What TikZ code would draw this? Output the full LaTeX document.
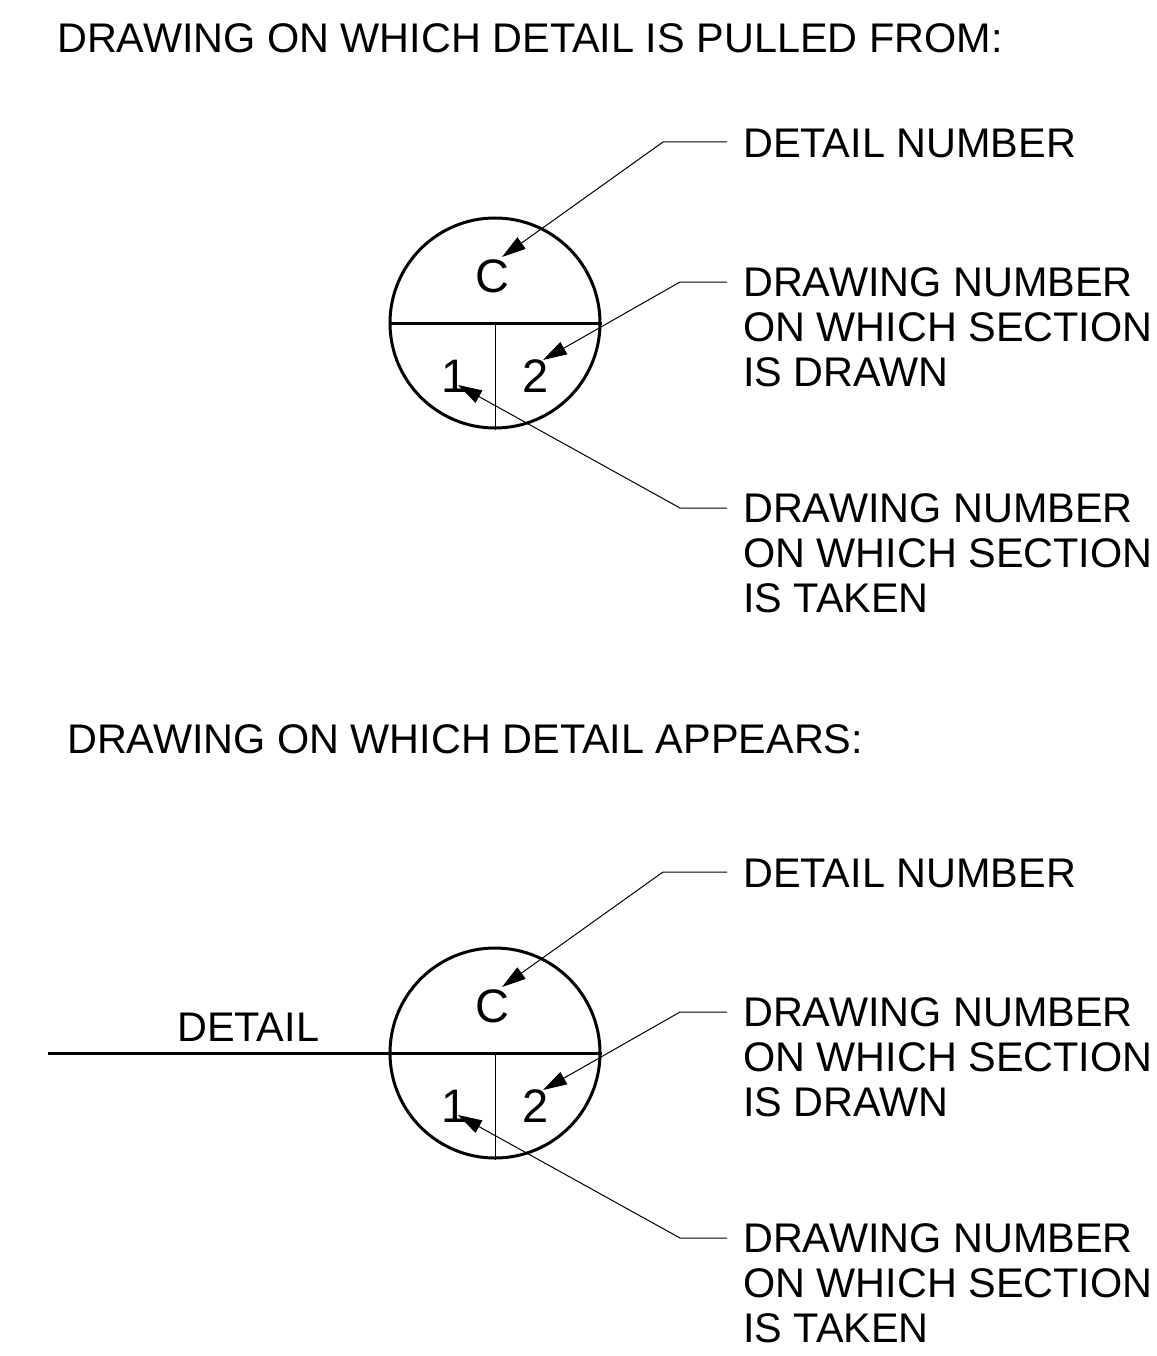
\documentclass[tikz,border=0pt]{standalone}
\usepackage{fontspec}
\setmainfont{Liberation Sans}
\usetikzlibrary{arrows.meta}

\tikzset{
	bubble/.style={circle, draw, line width=3pt, minimum size=210pt, inner sep=0pt},
	heavy/.style={line width=3pt},
	leader/.style={line width=1pt, -{Triangle[length=24pt, width=14pt]}},
	note/.style={anchor=north west, align=left, inner xsep=16pt, inner ysep=0pt},
	digit/.style={anchor=base, inner sep=0pt, font=\fontsize{47}{50}\selectfont},
	title/.style={anchor=base west, inner sep=0pt}
}

\begin{document}
\begin{tikzpicture}[x=1pt, y=-1pt, font=\fontsize{41.4}{45}\selectfont]
	\useasboundingbox (0,0) rectangle (1156,1356);
	%titles
	\node[title] (titlepull) at (57,53) {DRAWING ON WHICH DETAIL IS PULLED FROM:};
	\node[title] (titleappear) at (67,753) {DRAWING ON WHICH DETAIL APPEARS:};
	
	\foreach \y/\n in {0/pull, 730/appear}{
		%bubble
		\node[bubble] (\n) at (495, 323+\y) {};
		\draw[heavy] (\n.west) -- (\n.east);
		\draw[line width=1pt] (\n.center) -- (\n.south);
		\node[digit] (\n-c) at (492, 292+\y) {C};
		\node[digit] (\n-one) at (455, 392+\y) {1};
		\node[digit] (\n-two) at (535.5, 392+\y) {2};
		
		%notes
		\node[note] (\n-num) at (727, 128.5+\y) {DETAIL NUMBER};
		\node[note] (\n-drawn) at (727, 267+\y) {DRAWING NUMBER\\ON WHICH SECTION\\IS DRAWN};
		\node[note] (\n-taken) at (727, 493+\y) {DRAWING NUMBER\\ON WHICH SECTION\\IS TAKEN};
		
		%leaders
		\coordinate (\n-kc) at (663, 142+\y);
		\coordinate (\n-ktwo) at (680, 282+\y);
		\coordinate (\n-kone) at (680, 508+\y);
		\draw[leader] ([shift={(0,13.5)}]\n-num.north west) -- (\n-kc) -- ([shift={(10,-35)}]\n-c.base);
		\draw[leader] ([shift={(0,15)}]\n-drawn.north west) -- (\n-ktwo) -- ([shift={(7.5,-32)}]\n-two.base);
		\draw[leader] ([shift={(0,15)}]\n-taken.north west) -- (\n-kone) -- ([shift={(3,-7)}]\n-one.base);
	}
	
	%detail line
	\coordinate (detailend) at (48,1053);
	\draw[heavy] (detailend) -- (appear.west);
	\node[title] (detail) at (177,1041) {DETAIL};
\end{tikzpicture}
\end{document}
